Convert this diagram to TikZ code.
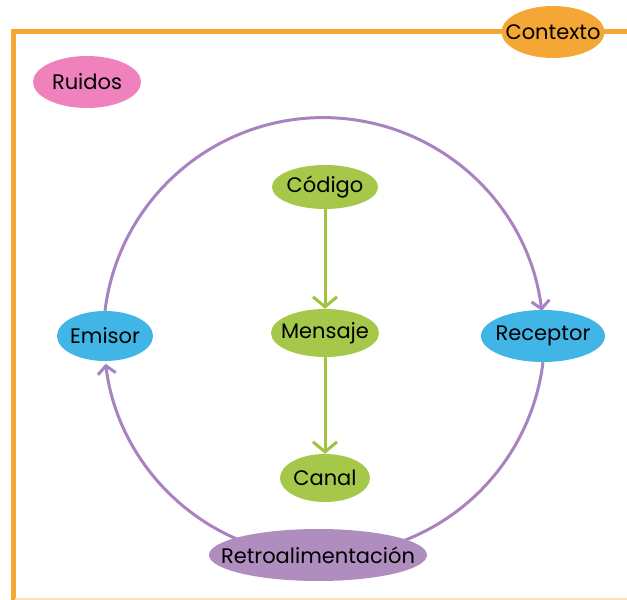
\documentclass[tikz,border=0pt]{standalone}
\usepackage{fontspec}
\setmainfont{Poppins}
\usepackage{xcolor}
\usepackage{tikz}
\usetikzlibrary{shapes.geometric, arrows.meta, backgrounds}
\definecolor{contextorange}{HTML}{F4A735}
\definecolor{ruidopink}{HTML}{EF82BD}
\definecolor{codegreen}{HTML}{A6C84A}
\definecolor{linegreen}{HTML}{9CC43E}
\definecolor{actorblue}{HTML}{41B6E6}
\definecolor{retropurple}{HTML}{B08DBF}
\definecolor{linepurple}{HTML}{A982C2}
\tikzstyle{bubble} = [ellipse, inner xsep=-60pt, inner ysep=-15pt, text=black, font=\fontsize{21}{24}\selectfont]
\tikzstyle{flow} = [line width=3pt, linegreen, -{Straight Barb[length=10pt,width=24pt,line width=3pt]}]
\tikzstyle{cycle} = [line width=3pt, linepurple]
\tikzset{cyclearrow/.style={cycle, -{Straight Barb[length=8pt,width=18pt,line width=3pt]}}}

\begin{document}
\begin{tikzpicture}[x=1pt, y=1pt]
        \useasboundingbox (0,0) rectangle (627,600);
        % Draw the context frame
        \draw[contextorange, line width=5pt] (13,0) -- (13,568) -- (627,568);
        \draw[contextorange!35, line width=1.5pt] (15,1) -- (627,1);
        \node[bubble, fill=contextorange, minimum width=103pt, minimum height=52pt] (contexto) at (553,568) {Contexto};
        \node[bubble, fill=ruidopink, minimum width=108pt, minimum height=52pt] (ruidos) at (87,518) {Ruidos};

        % Draw the middle chain
        \node[bubble, fill=codegreen, minimum width=106pt, minimum height=44pt] (codigo) at (325,413) {Código};
        \node[bubble, fill=codegreen, minimum width=108pt, minimum height=48pt] (mensaje) at (325,267) {Mensaje};
        \node[bubble, fill=codegreen, minimum width=90pt, minimum height=48pt] (canal) at (325,122) {Canal};
        \draw[flow] (codigo) -- (mensaje);
        \draw[flow] (mensaje) -- (canal);

        % Draw the actors on the circle
        \node[bubble, fill=actorblue, minimum width=96pt, minimum height=50pt] (emisor) at (105,264) {Emisor};
        \node[bubble, fill=actorblue, minimum width=124pt, minimum height=52pt] (receptor) at (543,264) {Receptor};
        \node[bubble, fill=retropurple, minimum width=218pt, minimum height=52pt] (retro) at (318,45) {Retroalimentación};
        \coordinate (ctr) at (324,263);

        % Draw the communication circle
        \begin{pgfonlayer}{background}
        \draw[cyclearrow] (emisor.north) arc[start angle=173, end angle=7, radius=220];
        \draw[cycle] (receptor.south) arc[start angle=-7, end angle=-69, radius=220];
        \draw[cyclearrow] ([shift={(249:220)}]ctr) arc[start angle=249, end angle=187, radius=220];
        \end{pgfonlayer}
    \end{tikzpicture}
\end{document}
